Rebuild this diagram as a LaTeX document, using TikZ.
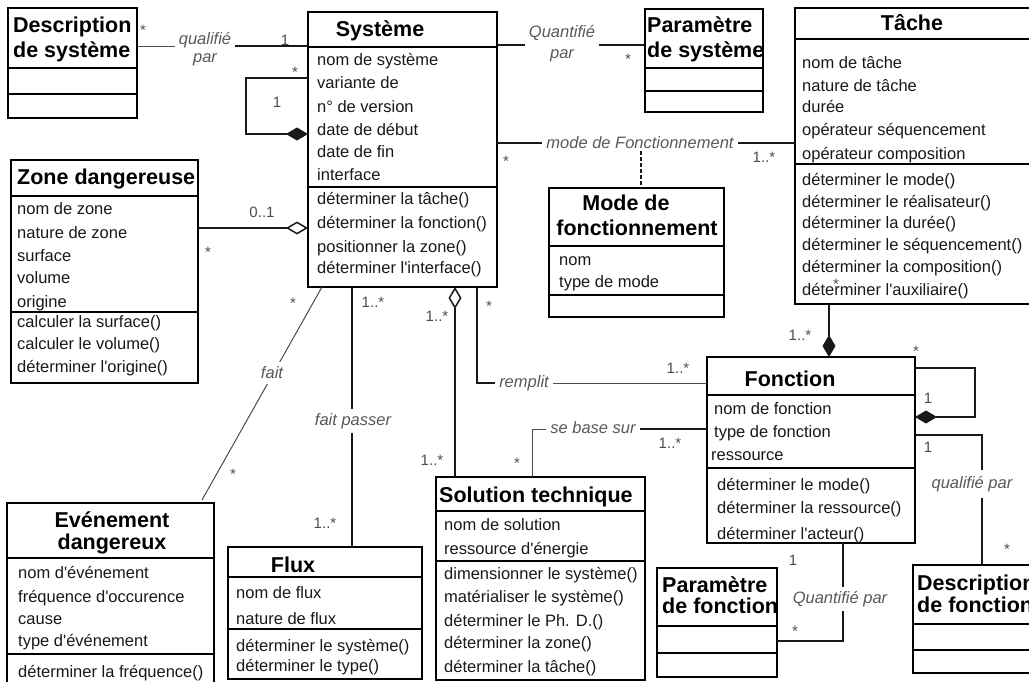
\documentclass[tikz,border=0pt]{standalone}
\usepackage{fontspec}
\setmainfont{Liberation Sans}[Ligatures=TeXOff]
\usetikzlibrary{arrows.meta}
\newcommand\umlbox[7]{%
  \node[box, anchor=north west, minimum width={#4-#2}, minimum height={#5-#3}] (#1) at (#2,#3) {};
  \draw[sepl] (#2,#6) -- (#4,#6);
  \draw[sepl] (#2,#7) -- (#4,#7);
}
\begin{document}
\begin{tikzpicture}[x=1pt,y=-1pt,
 box/.style={draw=black, line width=2pt, inner sep=0pt, outer sep=0pt},
 sepl/.style={line width=1.6pt, black},
 attr/.style={anchor=base west, inner sep=0pt, font=\fontsize{16.5}{19}\selectfont, text=black!90},
 ttl/.style={anchor=base west, inner sep=0pt, font=\fontsize{21.5}{25}\selectfont\bfseries},
 ttlc/.style={ttl, anchor=base},
 lbl/.style={font=\fontsize{16.5}{20}\selectfont\itshape, text=black!65, fill=white, inner xsep=4pt, inner ysep=2pt, align=center},
 mult/.style={anchor=base, inner sep=0pt, font=\fontsize{15}{18}\selectfont, text=black!70},
 conn/.style={line width=1.5pt, black!90},
 thinconn/.style={line width=1pt, black!70},
 comp/.style={-{Diamond[length=22pt,width=13pt]}},
 agg/.style={-{Diamond[fill=white,length=22pt,width=13pt]}},
]
\useasboundingbox (0,0) rectangle (1029,681);
\fill[white] (0,0) rectangle (1029,681);
\clip (0,0) rectangle (1029,681);

% ---------- boxes ----------
\umlbox{dsys}{8}{8}{137}{118}{68}{94}
\umlbox{sys}{308}{12}{497}{287}{47}{187}
\umlbox{psys}{645}{9}{763}{112}{68}{91}
\umlbox{tache}{795}{8}{1045}{304}{39}{164}
\umlbox{zone}{11}{160}{198}{383}{196}{312}
\umlbox{mode}{549}{188}{724}{317}{246}{295}
\umlbox{fonc}{707}{357}{915}{543}{395}{468}
\umlbox{even}{7}{503}{214}{700}{558}{654}
\umlbox{flux}{228}{547}{422}{679}{577}{629}
\umlbox{sol}{436}{477}{645}{680}{511}{561}
\umlbox{pfonc}{657}{568}{777}{677}{626}{653}
\umlbox{dfonc}{913}{565}{1050}{673}{624}{650}

% ---------- titles ----------
\node[ttl] (dsysT1) at (13,32.5) {Description};
\node[ttl] (dsysT2) at (13,57.5) {de système};
\node[ttlc] (sysT) at (380,36.5) {Système};
\node[ttl] (psysT1) at (647,32.5) {Paramètre};
\node[ttl] (psysT2) at (647,57.5) {de système};
\node[ttlc] (tacheT) at (912,30.5) {Tâche};
\node[ttl] (zoneT) at (17,184.5) {Zone dangereuse};
\node[ttlc] (modeT1) at (626,210.5) {Mode de};
\node[ttlc] (modeT2) at (637,235.5) {fonctionnement};
\node[ttlc] (foncT) at (790,386.5) {Fonction};
\node[ttlc] (evenT1) at (112,527.5) {Evénement};
\node[ttlc] (evenT2) at (112,549.5) {dangereux};
\node[ttlc] (fluxT) at (293,572.5) {Flux};
\node[ttl] (solT) at (439,502.5) {Solution technique};
\node[ttl] (pfoncT1) at (662,592.5) {Paramètre};
\node[ttl] (pfoncT2) at (662,613.5) {de fonction};
\node[ttl] (dfoncT1) at (917,590.5) {Description};
\node[ttl] (dfoncT2) at (917,612.5) {de fonction};

% ---------- attributes / operations ----------
\foreach \t/\y [count=\i] in {nom de système/60, variante de/83, n° de version/107, date de début/130, date de fin/152, interface/175, déterminer la tâche()/199, déterminer la fonction()/223, positionner la zone()/247, déterminer l'interface()/268}
  \node[attr] (sysa\i) at (317,{\y+5.5}) {\t};
\foreach \t/\y [count=\i] in {nom de tâche/63, nature de tâche/86, durée/107, opérateur séquencement/130, opérateur composition/154, déterminer le mode()/180, déterminer le réalisateur()/202, déterminer la durée()/223, déterminer le séquencement()/245, déterminer la composition()/267, déterminer l'auxiliaire()/290}
  \node[attr] (tachea\i) at (802,{\y+5.5}) {\t};
\foreach \t/\y [count=\i] in {nom de zone/209, nature de zone/233, surface/256, volume/278, origine/302, calculer la surface()/322, calculer le volume()/344, déterminer l'origine()/367}
  \node[attr] (zonea\i) at (17,{\y+5.5}) {\t};
\foreach \t/\y [count=\i] in {nom/260, type de mode/282}
  \node[attr] (modea\i) at (559,{\y+5.5}) {\t};
\foreach \t/\y [count=\i] in {nom de fonction/409, type de fonction/432}
  \node[attr] (fonca\i) at (714,{\y+5.5}) {\t};
\node[attr] (fonca3) at (711,460.5) {ressource};
\foreach \t/\y [count=\i] in {déterminer le mode()/485, déterminer la ressource()/508, déterminer l'acteur()/534}
  \node[attr] (foncm\i) at (717,{\y+5.5}) {\t};
\foreach \t/\y [count=\i] in {nom d'événement/573, fréquence d'occurence/597, cause/619, type d'événement/641, déterminer la fréquence()/672}
  \node[attr] (evena\i) at (18,{\y+5.5}) {\t};
\foreach \t/\y [count=\i] in {nom de flux/593, nature de flux/619, déterminer le système()/646, déterminer le type()/666}
  \node[attr] (fluxa\i) at (236,{\y+5.5}) {\t};
\foreach \t/\y [count=\i] in {nom de solution/525, ressource d'énergie/549, dimensionner le système()/574, matérialiser le système()/597, déterminer le Ph. D.()/621, déterminer la zone()/643, déterminer la tâche()/667}
  \node[attr] (sola\i) at (444,{\y+5.5}) {\t};

% ---------- connectors ----------
\coordinate (qc) at (205,46);
\coordinate (remc) at (524,383);
\coordinate (basec) at (593,429);
\draw[thinconn] (dsys.east |- qc) -- (qc);
\draw[conn] (qc) -- (sys.west |- qc);
\draw[conn,comp] (sys.west |- 0,78) -- (246,78) -- (246,134) -- (sys.west |- 0,134);
\draw[conn,agg] (zone.east |- 0,228) -- (sys.west |- 0,228);
\draw[conn] (sys.east |- 0,45) -- (psys.west |- 0,45);
\draw[conn] (sys.east |- 0,143) -- (tache.west |- 0,143);
\draw[thinconn] (sys.south -| 322,0) -- (202,500);
\draw[conn] (sys.south -| 352,0) -- (flux.north -| 352,0);
\draw[conn,agg] (sol.north -| 455,0) -- (sys.south -| 455,0);
\draw[conn] (sys.south -| 477,0) |- (remc);
\draw[thinconn] (remc) -- (fonc.west |- remc);
\draw[conn] (fonc.west |- basec) -- (basec);
\draw[thinconn] (basec) -| (sol.north -| 532,0);
\draw[conn,comp] (tache.south -| 829,0) -- (fonc.north -| 829,0);
\draw[conn,comp] (fonc.east |- 0,368) -- (975,368) -- (975,417) -- (fonc.east |- 0,417);
\draw[conn] (fonc.east |- 0,435) -| (dfonc.north -| 982,0);
\draw[conn] (fonc.south -| 843,0) |- (pfonc.east |- 0,641);

% ---------- association labels ----------
\node[lbl, font=\fontsize{16.5}{18}\selectfont\itshape] (lq1) at (205,49) {qualifié\\par};
\node[lbl, font=\fontsize{16.5}{21}\selectfont\itshape] (lq2) at (562,43.5) {Quantifié\\par};
\node[lbl] (lmode) at (640,143) {mode de Fonctionnement};
\draw[conn, dashed, dash pattern=on 4pt off 2pt] (lmode.south -| 641,0) -- (mode.north -| 641,0);
\node[lbl, inner ysep=5pt] (lfait) at (272,373) {fait};
\node[lbl, inner ysep=4pt] (lfp) at (353,421) {fait passer};
\node[lbl] (lrem) at (remc) {remplit};
\node[lbl] (lbase) at (593,428) {se base sur};
\node[lbl, inner ysep=6pt] (lqf) at (972,484) {qualifié par};
\node[lbl, inner ysep=4pt] (lqpf) at (840,599) {Quantifié par};

% ---------- multiplicities ----------
\foreach \x/\y [count=\i] in {143/26, 295/68, 208/248, 628/55, 506/157, 293/299, 233/470, 489/302, 517/459, 916/347, 1007/545, 795/627, 836/280}
  \node[mult] (ms\i) at (\x,{\y+9}) {*};
\foreach \t/\x/\y [count=\i] in {1/285/40, 1/277/102, 0..1/262/212, 1..*/764/157, 1..*/373/302, 1..*/325/523, 1..*/437/316, 1..*/432/460, 1..*/678/368, 1..*/670/443, 1..*/800/335, 1/928/398, 1/928/447, 1/793/560}
  \node[mult] (mn\i) at (\x,{\y+5.5}) {\t};
\end{tikzpicture}
\end{document}
